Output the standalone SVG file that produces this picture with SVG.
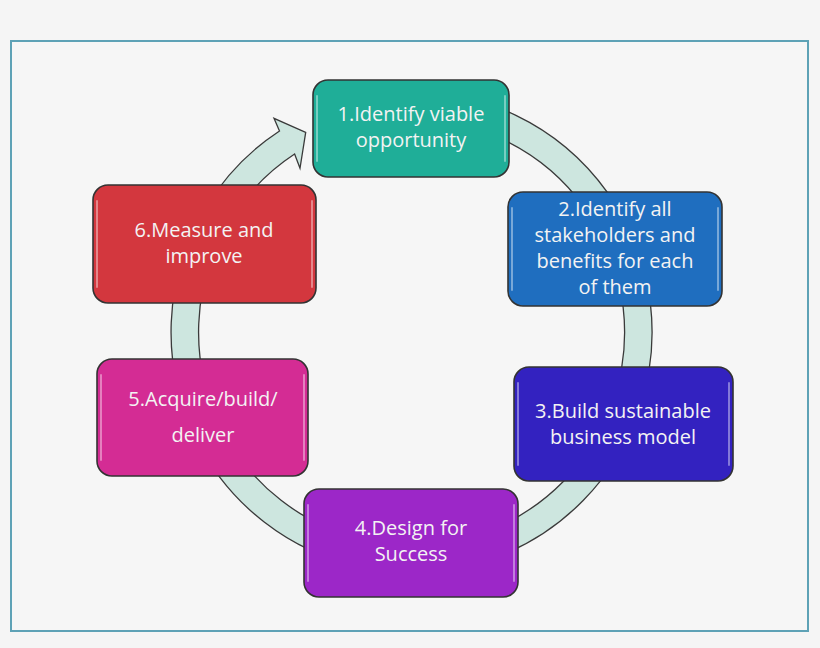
<svg xmlns="http://www.w3.org/2000/svg" width="820" height="648" viewBox="0 0 820 648">
<style>
.box{stroke:#333333;stroke-width:1.6}
.gl{fill:none;stroke:#ffffff;stroke-opacity:0.4;stroke-width:2;stroke-linecap:round}
.t{font-family:"Open Sans","Liberation Sans",sans-serif;font-size:20px;fill:#f3f3f3;text-anchor:middle}
</style>
<rect x="0" y="0" width="820" height="648" fill="#f5f5f5"/>
<rect x="11" y="41" width="797" height="590" fill="#f6f6f6" stroke="#5ea2b6" stroke-width="2"/>
<g id="connectors">
<path d="M411.5,91.5 A240.5,240.5 0 1 1 279.5,131 L274,118.3 L305.7,132.3 L300,168.3 L294.6,154 A213,213 0 1 0 411.5,119 Z" fill="#cde6df" stroke="#3a3a3a" stroke-width="1.3" stroke-linejoin="miter"/>
</g>
<g id="node1">
<rect class="box" x="313" y="80" width="196" height="97" rx="15" fill="#1fae98"/>
<path class="gl" d="M317,96 V161 M505,96 V161"/>
<text class="t" x="411" y="121">1.Identify viable</text>
<text class="t" x="411" y="147">opportunity</text>
</g>
<g id="node2">
<rect class="box" x="508" y="192" width="214" height="114" rx="15" fill="#1f6ebf"/>
<path class="gl" d="M512,208 V290 M718,208 V290"/>
<text class="t" x="615" y="216">2.Identify all</text>
<text class="t" x="615" y="242">stakeholders and</text>
<text class="t" x="615" y="268">benefits for each</text>
<text class="t" x="615" y="294">of them</text>
</g>
<g id="node3">
<rect class="box" x="514" y="367" width="219" height="114" rx="15" fill="#3322c0"/>
<path class="gl" d="M518,383 V465 M729,383 V465"/>
<text class="t" x="623" y="418">3.Build sustainable</text>
<text class="t" x="623" y="444">business model</text>
</g>
<g id="node4">
<rect class="box" x="304" y="489" width="214" height="108" rx="15" fill="#9c27c8"/>
<path class="gl" d="M308,505 V581 M514,505 V581"/>
<text class="t" x="411" y="535">4.Design for</text>
<text class="t" x="411" y="561">Success</text>
</g>
<g id="node5">
<rect class="box" x="97" y="359" width="211" height="117" rx="15" fill="#d42c94"/>
<path class="gl" d="M101,375 V460 M304,375 V460"/>
<text class="t" x="203" y="406">5.Acquire/build/</text>
<text class="t" x="203" y="442">deliver</text>
</g>
<g id="node6">
<rect class="box" x="93" y="185" width="223" height="118" rx="15" fill="#d3373e"/>
<path class="gl" d="M97,201 V287 M312,201 V287"/>
<text class="t" x="204" y="237">6.Measure and</text>
<text class="t" x="204" y="263">improve</text>
</g>
</svg>
